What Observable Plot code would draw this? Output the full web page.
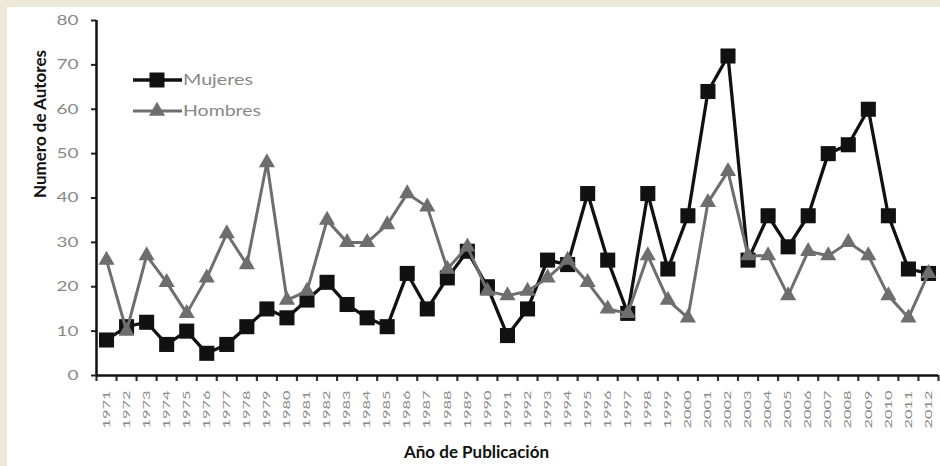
<!DOCTYPE html>
<html><head><meta charset="utf-8">
<script src="https://cdn.jsdelivr.net/npm/d3@7"></script>
<script src="https://cdn.jsdelivr.net/npm/@observablehq/plot@0.6"></script>
<style>
html,body{margin:0;padding:0;background:#ECE9D8;}
#wrap{position:relative;width:940px;height:466px;overflow:hidden;}
#panel{position:absolute;left:7px;top:7px;right:0;bottom:0;background:#fff;}
#chart{position:absolute;left:0;top:0;}
#legend{position:absolute;left:0;top:0;pointer-events:none;}
</style></head><body>
<div id="wrap"><div id="panel"></div><div id="chart"></div><svg id="legend" width="940" height="466"></svg></div>
<script>
const years = [1971,1972,1973,1974,1975,1976,1977,1978,1979,1980,
  1981,1982,1983,1984,1985,1986,1987,1988,1989,1990,
  1991,1992,1993,1994,1995,1996,1997,1998,1999,2000,
  2001,2002,2003,2004,2005,2006,2007,2008,2009,2010,
  2011,2012];
const mujeres = [8,11,12,7,10,5,7,11,15,13,
  17,21,16,13,11,23,15,22,28,20,
  9,15,26,25,41,26,14,41,24,36,
  64,72,26,36,29,36,50,52,60,36,
  24,23];
const hombres = [26,10,27,21,14,22,32,25,48,17,
  19,35,30,30,34,41,38,24,29,19,
  18,19,22,26,21,15,14,27,17,13,
  39,46,27,27,18,28,27,30,27,18,
  13,23];
const yTicks = [0,10,20,30,40,50,60,70,80];
const seriesNames = ["Mujeres","Hombres"];
const xTitle = "Año de Publicación";
const yTitle = "Numero de Autores";

const mData = years.map((year,i)=>({year, value: mujeres[i]}));
const hData = years.map((year,i)=>({year, value: hombres[i]}));
const bounds = years.map(y=>y-0.5).concat([years[years.length-1]+0.5]);

const BLACK = "#111111", GRAY = "#6e6e6e", LABEL = "#888888";

const chart = Plot.plot({
  width: 940, height: 466,
  marginLeft: 96, marginRight: 2, marginTop: 20, marginBottom: 91,
  style: {background: "transparent", fontFamily: "Lato, sans-serif", overflow: "visible"},
  x: {type: "linear", domain: [bounds[0], bounds[bounds.length-1]]},
  y: {domain: [yTicks[0], yTicks[yTicks.length-1]]},
  marks: [
    Plot.axisY({ticks: yTicks, tickSize: 5, tickPadding: 13, fontSize: 14, label: null, color: LABEL}),
    Plot.axisX({ticks: years, tickSize: 0, tickPadding: 15, tickRotate: -90, tickFormat: d => String(d), fontSize: 10, label: null, color: LABEL}),
    Plot.axisX({ticks: bounds, tickSize: 6, tickFormat: () => "", label: null, color: "#333"}),
    Plot.ruleX([bounds[0]], {stroke: BLACK, strokeWidth: 2.5}),
    Plot.ruleY([yTicks[0]], {stroke: BLACK, strokeWidth: 2.5}),
    Plot.line(mData, {x: "year", y: "value", stroke: BLACK, strokeWidth: 3.3}),
    Plot.dot(mData, {x: "year", y: "value", symbol: "square", r: 8.5, fill: BLACK, stroke: "none"}),
    Plot.line(hData, {x: "year", y: "value", stroke: GRAY, strokeWidth: 3}),
    Plot.dot(hData, {x: "year", y: "value", symbol: "triangle", r: 6, fill: GRAY, stroke: "none"}),
    Plot.text([xTitle], {text: d => d, frameAnchor: "bottom", dx: -41, dy: 82, fontSize: 17, fontWeight: "bold", fill: BLACK, ariaLabel: "x-title"}),
    Plot.text([yTitle], {text: d => d, frameAnchor: "left", dx: -56, rotate: -90, fontSize: 17, fontWeight: "bold", fill: BLACK, ariaLabel: "y-title"})
  ]
});
document.getElementById("chart").appendChild(chart);

const svg = d3.select(chart);
svg.selectAll('g[aria-label="y-axis tick"]').attr("stroke", "#222").attr("stroke-width", 2);
svg.selectAll('g[aria-label="x-axis tick"]').attr("stroke", "#333").attr("stroke-width", 2.2);
svg.selectAll('g[aria-label="y-axis tick label"] text').each(function(){
  const t = this.textContent;
  d3.select(this).attr("textLength", t.length * 11).attr("lengthAdjust", "spacingAndGlyphs");
});
svg.selectAll('g[aria-label="x-axis tick label"] text').each(function(){
  if (this.textContent) d3.select(this).attr("textLength", 38).attr("lengthAdjust", "spacingAndGlyphs");
});
svg.selectAll('g[aria-label="x-title"] text').attr("textLength", 282).attr("lengthAdjust", "spacingAndGlyphs");
svg.selectAll('g[aria-label="y-title"] text').attr("textLength", 205).attr("lengthAdjust", "spacingAndGlyphs");

// legend
const lg = d3.select("#legend");
const legendItems = [
  {name: seriesNames[0], color: BLACK, symbol: d3.symbolSquare, size: 15*15, w: 3.5, len: 70, cy: 80},
  {name: seriesNames[1], color: GRAY, symbol: d3.symbolTriangle, size: Math.PI*36, w: 3, len: 78, cy: 111}
];
legendItems.forEach(it => {
  const g = lg.append("g").attr("transform", `translate(0,${it.cy})`);
  g.append("line").attr("x1", 133).attr("x2", 182).attr("y1", 0).attr("y2", 0).attr("stroke", it.color).attr("stroke-width", it.w);
  g.append("path").attr("d", d3.symbol(it.symbol, it.size)()).attr("transform", "translate(157,0)").attr("fill", it.color);
  g.append("text").attr("x", 183).attr("y", 0).attr("dy", "0.35em").attr("fill", LABEL)
    .attr("font-family", "Lato, sans-serif").attr("font-size", 15)
    .attr("textLength", it.len).attr("lengthAdjust", "spacingAndGlyphs").text(it.name);
});
</script>
</body></html>
